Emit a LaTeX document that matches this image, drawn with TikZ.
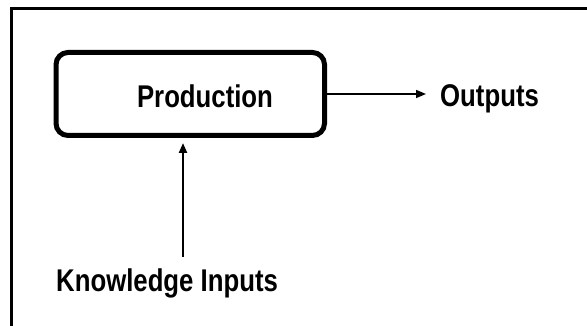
\documentclass[tikz,border=0pt]{standalone}
\usepackage{fontspec}
\newfontfamily\narrowsans{Liberation Sans}[FakeStretch=0.82]
\usetikzlibrary{arrows.meta}
\begin{document}
\begin{tikzpicture}[x=1pt,y=1pt,
    lbl/.style={font=\narrowsans\bfseries\fontsize{31.4}{36}\selectfont, inner sep=0pt},
    prodbox/.style={draw, line width=5pt, rounded corners=12pt, minimum width=268.5pt, minimum height=83pt},
    arr/.style={-{Triangle[length=10pt,width=8pt]}}]
    \useasboundingbox (0,0) rectangle (587,326);
    % frame
    \draw[line width=2.5pt] (11.3,0) -- (11.3,317.3) -- (587,317.3);
    \node[prodbox] (prod) at (190.25,232) {};
    \node[lbl, anchor=base] (prodtxt) at (205,218) {Production};
    \node[lbl, anchor=base west] (outs) at (440,219) {Outputs};
    \node[lbl, anchor=base west] (kin) at (56,34) {Knowledge Inputs};
    \coordinate (outtip) at (426,232);
    \coordinate (instart) at (183,69);
    \draw[arr, line width=1.6pt] (prod.east) -- (outtip);
    \draw[arr, line width=2.2pt, shorten >=5pt] (instart) -- (instart |- prod.south);
\end{tikzpicture}
\end{document}
